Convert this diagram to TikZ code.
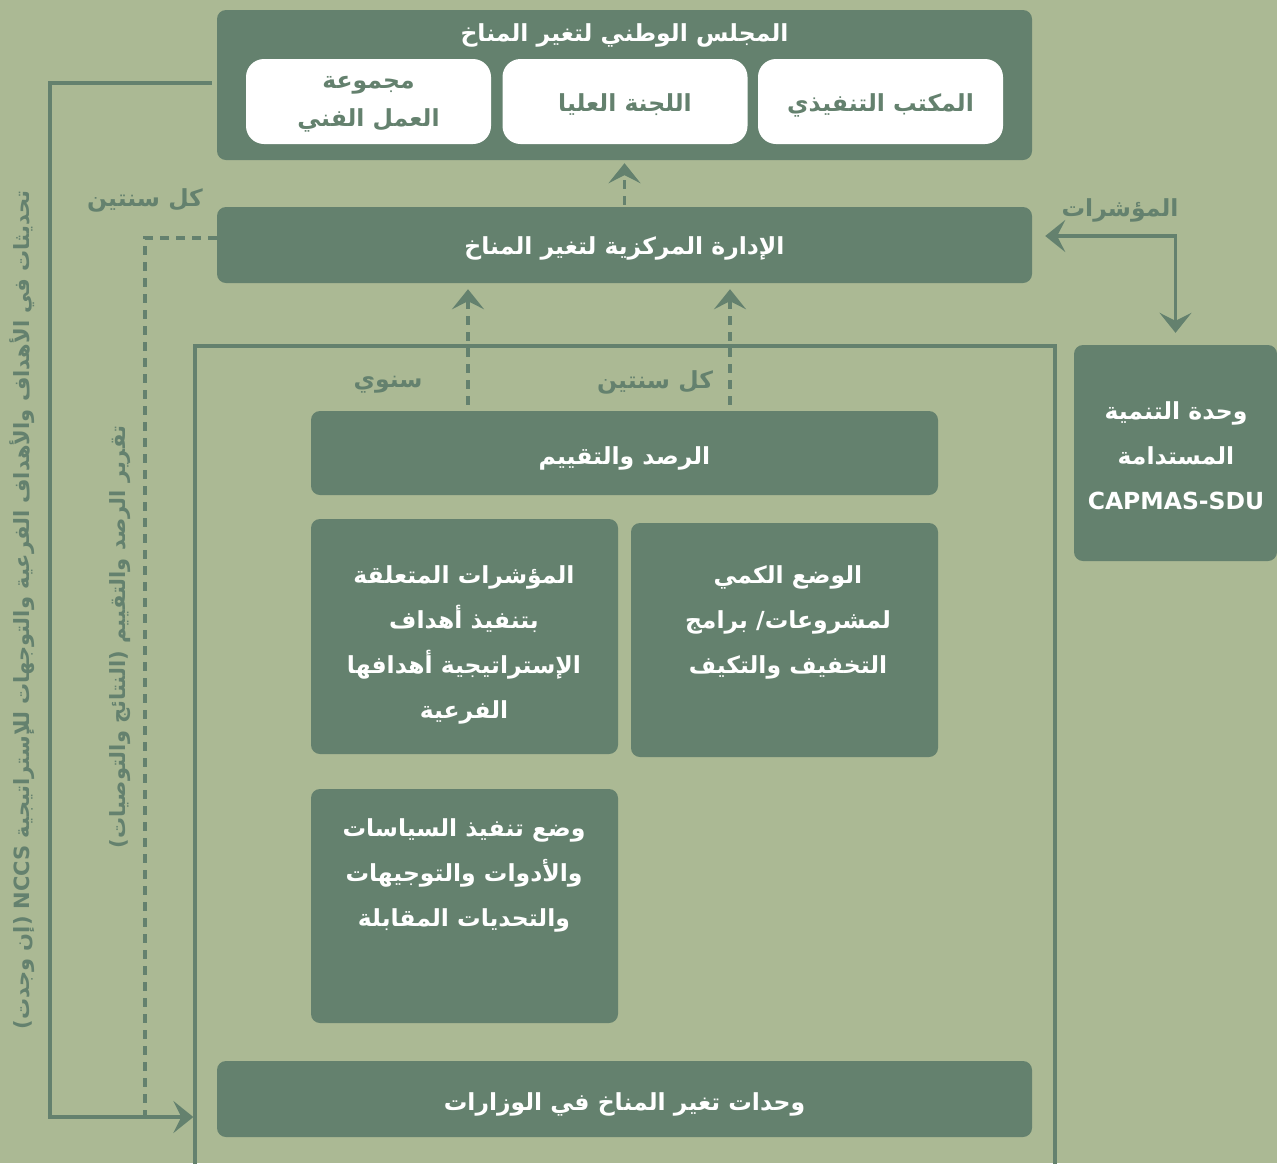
\documentclass[tikz,border=0pt]{standalone}
\usepackage{fontspec}
\usetikzlibrary{arrows.meta}
\TeXXeTstate=1
\newfontfamily\arabicfont[Script=Arabic]{DejaVu Sans}
\newcommand{\ar}[1]{\beginR #1\endR}
\newcommand{\dn}[2]{\raisebox{-#1pt}[\height][\depth]{#2}}
\definecolor{bg}{RGB}{171,185,148}
\definecolor{dk}{RGB}{100,129,110}
\begin{document}
\begin{tikzpicture}[x=1pt,y=-1pt,
  txt/.style={font=\arabicfont\bfseries\fontsize{23.5}{45}\selectfont, align=center},
  dbox/.style={fill=dk, rounded corners=9pt, inner sep=0pt, text=white, txt},
  wbox/.style={fill=white, rounded corners=18pt, inner sep=0pt, text=dk, txt},
  lbl/.style={text=dk, txt, inner sep=0pt},
  conn/.style={draw=dk, line width=3.3pt},
  dconn/.style={conn, dash pattern=on 9pt off 7pt},
  tip/.style={-{Stealth[length=20pt,width=32pt,inset=8pt]}},
  tips/.style={{Stealth[length=20pt,width=32pt,inset=8pt]}-{Stealth[length=20pt,width=32pt,inset=8pt]}}
]
\useasboundingbox (0,0) rectangle (1277,1163);
\fill[bg] (0,0) rectangle (1277,1163);

% council
\node[dbox, minimum width=815pt, minimum height=150pt] (council) at (624.5,85) {};
\node[lbl, text=white] (counciltitle) at (624.5,35) {\ar{المجلس الوطني لتغير المناخ}};
\node[wbox, minimum width=245pt, minimum height=85pt] (wg) at (368.5,101.5) {};
\node[lbl, font=\arabicfont\bfseries\fontsize{23.5}{38}\selectfont] (wgtext) at (368.5,104.5) {\ar{مجموعة}\\\ar{العمل الفني}};
\node[wbox, minimum width=245pt, minimum height=85pt] (hc) at (625,101.5) {\dn{3}{\beginR اللجنة العليا\endR}};
\node[wbox, minimum width=245pt, minimum height=85pt] (eo) at (880.5,101.5) {\dn{4}{\beginR المكتب التنفيذي\endR}};

% central admin
\node[dbox, minimum width=815pt, minimum height=76pt] (admin) at (624.5,245) {\dn{3}{\beginR الإدارة المركزية لتغير المناخ\endR}};

% big frame
\node[draw=dk, line width=3.3pt, minimum width=860pt, minimum height=829pt, inner sep=0pt] (frame) at (625,760.5) {};

% SDU
\node[dbox, minimum width=203pt, minimum height=216pt] (sdu) at (1175.5,453) {};
\node[lbl, text=white] (sdutext) at (1176,456) {\ar{وحدة التنمية}\\\ar{المستدامة}\\CAPMAS-SDU};

% inner boxes
\node[dbox, minimum width=627pt, minimum height=84pt] (me) at (624.5,453) {\dn{5}{\beginR الرصد والتقييم\endR}};
\node[dbox, minimum width=307pt, minimum height=235pt] (ind) at (464.5,636.5) {};
\node[lbl, text=white] (indtext) at (464,645) {\ar{المؤشرات المتعلقة}\\\ar{بتنفيذ أهداف}\\\ar{الإستراتيجية أهدافها}\\\ar{الفرعية}};
\node[dbox, minimum width=307pt, minimum height=234pt] (quant) at (784.5,640) {};
\node[lbl, text=white] (quanttext) at (788,622) {\ar{الوضع الكمي}\\\ar{لمشروعات/ برامج}\\\ar{التخفيف والتكيف}};
\node[dbox, minimum width=307pt, minimum height=234pt] (pol) at (464.5,906) {};
\node[lbl, text=white] (poltext) at (464,875) {\ar{وضع تنفيذ السياسات}\\\ar{والأدوات والتوجيهات}\\\ar{والتحديات المقابلة}};
\node[dbox, minimum width=815pt, minimum height=76pt] (min) at (624.5,1099) {\dn{5}{\beginR وحدات تغير المناخ في الوزارات\endR}};

% labels
\node[lbl] (l1) at (145,200) {\ar{كل سنتين}};
\node[lbl] (l2) at (1120,210) {\ar{المؤشرات}};
\node[lbl] (l3) at (388,385) {\ar{سنوي}};
\node[lbl] (l4) at (655,382) {\ar{كل سنتين}};
\node[lbl, rotate=90, font=\arabicfont\bfseries\fontsize{21}{25}\selectfont] (v1) at (22,610) {\ar{تحديثات في الأهداف والأهداف الفرعية والتوجهات للإستراتيجية \beginL NCCS\endL{} (إن وجدت)}};
\node[lbl, rotate=90, font=\arabicfont\bfseries\fontsize{21}{25}\selectfont] (v2) at (120,637) {\ar{تقرير الرصد والتقييم (النتائج والتوصيات)}};

% connectors
\coordinate (ul) at (50,83);
\coordinate (ll) at (50,1117);
\draw[conn, tip] ([xshift=-5pt,yshift=2pt]council.west) -- (ul) -- (ll) -- (frame.west |- ll);
\coordinate (dl) at (145,238);
\coordinate (dd) at (145,1115);
\draw[dconn] ([yshift=7pt]admin.west) -- (dl) -- (dd);
\draw[dconn, tip, shorten <=2pt, shorten >=3pt] (admin.north) -- (council.south);
\coordinate (a1) at (468,0);
\coordinate (a2) at (730,0);
\draw[dconn, tip, shorten <=6pt, shorten >=6pt] (me.north -| a1) -- (admin.south -| a1);
\draw[dconn, tip, shorten <=6pt, shorten >=6pt] (me.north -| a2) -- (admin.south -| a2);
\draw[conn, tips, shorten <=13pt, shorten >=12pt] ([yshift=9pt]admin.east) -| (sdu.north);
\end{tikzpicture}
\end{document}
